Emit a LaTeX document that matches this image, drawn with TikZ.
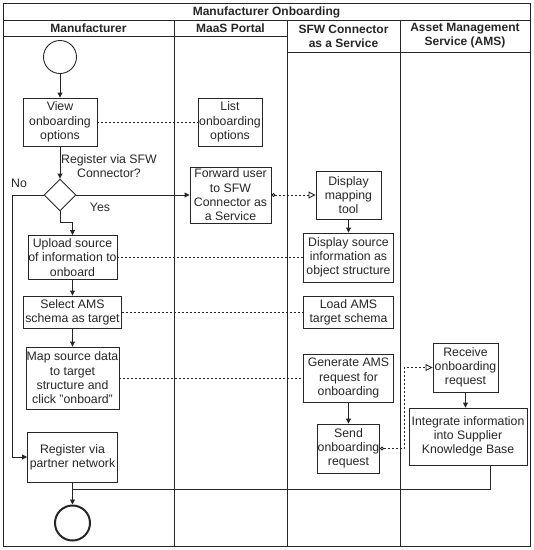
\documentclass[tikz,border=0pt]{standalone}
\usepackage{fontspec}
\setmainfont{Liberation Sans}
\usetikzlibrary{arrows.meta,shapes.geometric}
\begin{document}
\begin{tikzpicture}[x=1pt,y=-1pt,
 ln/.style={line width=0.9pt, draw=black!85},
 box/.style={ln, rectangle, align=center, inner sep=0pt, font=\fontsize{12.3}{14.3}\selectfont, text=black!85},
 arr/.style={ln, -{Triangle[length=5pt,width=5pt]}},
 dsh/.style={ln, dash pattern=on 2pt off 2pt},
 msg/.style={ln, dash pattern=on 2pt off 2pt, {Circle[open,length=4pt,width=4pt]}-{Triangle[open,length=7pt,width=7pt]}},
 hdr/.style={font=\bfseries\fontsize{12}{14}\selectfont, align=center, inner sep=0pt, text=black!85},
 lbl/.style={font=\fontsize{12.3}{14.3}\selectfont, align=center, inner sep=0pt, text=black!85}
]
\useasboundingbox (0,0) rectangle (534,550);
% pool frame
\draw[ln] (3,3) rectangle (530,546);
\draw[ln] (3,20) -- (530,20);
\draw[ln] (3,36) -- (287,36);
\draw[ln] (287,52) -- (530,52);
\draw[ln] (174,20) -- (174,546);
\draw[ln] (287,20) -- (287,546);
\draw[ln] (400,20) -- (400,546);
\node[hdr] (title) at (266.5,12) {Manufacturer Onboarding};
\node[hdr] (h1) at (88.5,28) {Manufacturer};
\node[hdr] (h2) at (230.5,28) {MaaS Portal};
\node[hdr] (h3) at (343.5,36) {SFW Connector\\as a Service};
\node[hdr] (h4) at (465,36) {Asset Management\\Service (AMS)};
% nodes
\node[circle, ln, minimum size=33pt, inner sep=0pt] (start) at (60,57) {};
\node[box, minimum width=74pt, minimum height=48pt] (view) at (60,122) {View\\onboarding\\options};
\node[box, minimum width=64pt, minimum height=48pt] (list) at (230,122) {List\\onboarding\\options};
\node[diamond, ln, minimum width=32pt, minimum height=32pt, inner sep=0pt] (dec) at (60,195) {};
\node[box, minimum width=81pt, minimum height=56pt] (forward) at (230.5,195) {Forward user\\to SFW\\Connector as\\a Service};
\node[box, minimum width=65pt, minimum height=48pt] (mapping) at (348.5,195) {Display\\mapping\\tool};
\node[box, minimum width=90pt, minimum height=49pt] (source) at (348.5,257.5) {Display source\\information as\\object structure};
\node[box, minimum width=89pt, minimum height=44pt] (upload) at (72.5,257.5) {Upload source\\of information to\\onboard};
\node[box, minimum width=98pt, minimum height=32pt] (select) at (72.5,312) {Select AMS\\schema as target};
\node[box, minimum width=90pt, minimum height=32pt] (load) at (348.5,312) {Load AMS\\target schema};
\node[box, minimum width=93pt, minimum height=62pt] (map) at (72.5,378) {Map source data\\to target\\structure and\\click "onboard"};
\node[box, minimum width=90pt, minimum height=48pt] (generate) at (348.5,378) {Generate AMS\\request for\\onboarding};
\node[box, minimum width=62pt, minimum height=49pt] (send) at (348.5,448.5) {Send\\onboarding\\request};
\node[box, minimum width=65pt, minimum height=49pt] (receive) at (465.5,367.5) {Receive\\onboarding\\request};
\node[box, minimum width=118pt, minimum height=57pt] (integrate) at (468,436.5) {Integrate information\\into Supplier\\Knowledge Base};
\node[box, minimum width=90pt, minimum height=50pt] (register) at (72.5,457) {Register via\\partner network};
\node[circle, draw=black!85, line width=2pt, minimum size=35pt, inner sep=0pt] (end) at (72.5,523) {};
% labels
\node[lbl] (q) at (109,166) {Register via SFW\\Connector?};
\node[lbl] (no) at (19,183) {No};
\node[lbl] (yes) at (100,207) {Yes};
% connectors
\draw[arr] (start) -- (view);
\draw[arr] (view) -- (dec);
\draw[arr] (dec) -- (forward);
\draw[arr] (dec.south) -- ++(0,11) -| (upload.north);
\coordinate (nol) at (12,195);
\draw[arr] (dec.west) -- (nol) |- (register.west);
\draw[arr] (upload) -- (select);
\draw[arr] (select) -- (map);
\draw[arr] (register) -- (end);
\coordinate (merge) at (72.5,489);
\coordinate (intb) at (490,465);
\draw[ln] (intb) |- (merge);
\draw[dsh] (view) -- (list);
\draw[dsh] (upload.east) -- (upload.east -| source.west);
\draw[dsh] (select) -- (load);
\draw[dsh] (map) -- (generate);
\draw[msg] (forward) -- (mapping);
\draw[arr] (mapping) -- (source);
\draw[arr] (generate) -- (send);
\coordinate (sr) at (404,448.5);
\draw[msg] (send.east) -- (sr) |- (receive.west);
\draw[arr] (receive.south) -- (receive.south |- integrate.north);
\end{tikzpicture}
\end{document}
